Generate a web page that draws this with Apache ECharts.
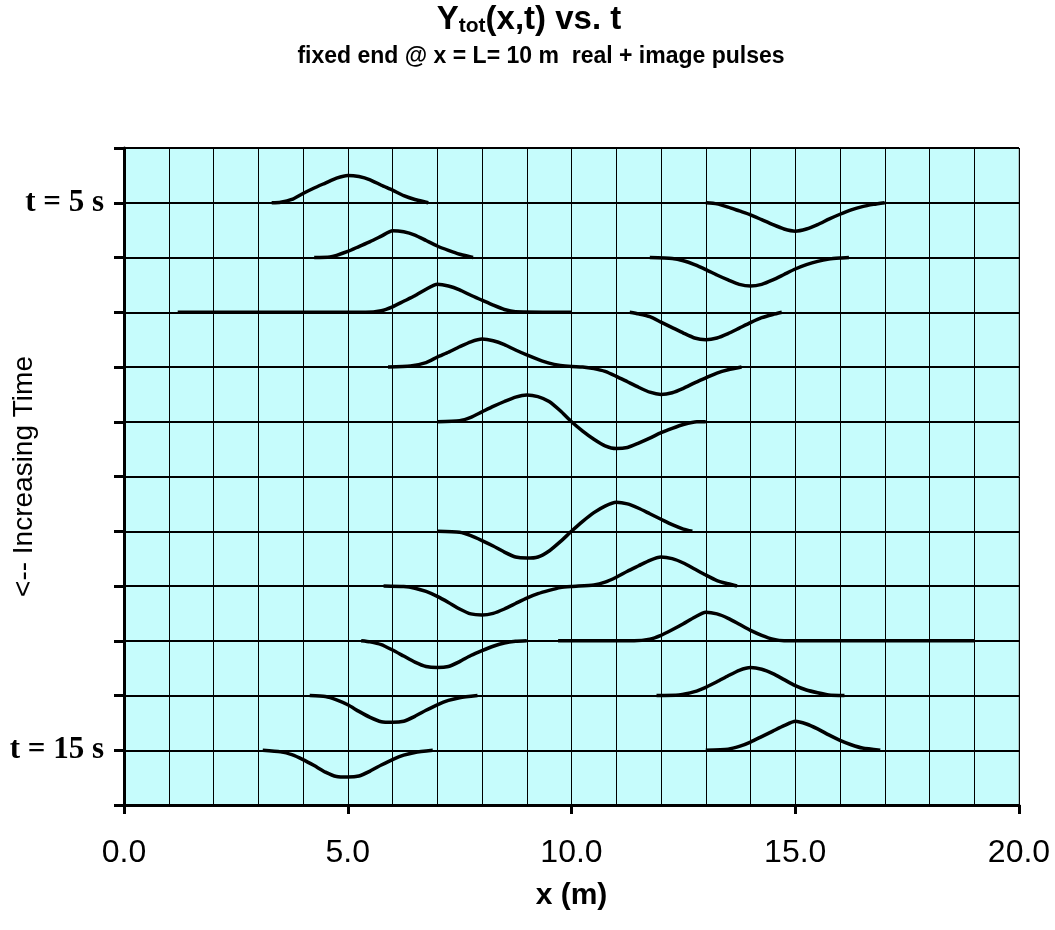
<!DOCTYPE html>
<html>
<head>
<meta charset="utf-8">
<script src="https://cdn.jsdelivr.net/npm/echarts@6/dist/echarts.min.js"></script>
<style>
  html, body { margin: 0; padding: 0; background: #fff; }
  #chart { width: 1055px; height: 930px; }
</style>
</head>
<body>
<div id="chart"></div>
<script>
// times of the rows, top (t = 5 s) to bottom (t = 15 s)
var times = [5, 6, 7, 8, 9, 10, 11, 12, 13, 14, 15];
var tickLabels = { 11: 't = 5 s', 1: 't = 15 s' };

// string displacement [x (m), y] per row, split in drawn segments
var t5 = [
  [[3.3,0],[3.5,0.01],[3.75,0.06],[4,0.17],[4.25,0.27],[4.5,0.36],[4.75,0.45],[5,0.5],[5.25,0.48],[5.5,0.42],[5.75,0.32],[6,0.23],[6.25,0.13],[6.5,0.06],[6.75,0.01],[6.8,0]],
  [[13,0],[13.25,-0.02],[13.5,-0.08],[13.75,-0.15],[14,-0.22],[14.25,-0.31],[14.5,-0.4],[14.75,-0.48],[15,-0.52],[15.25,-0.48],[15.5,-0.4],[15.75,-0.3],[16,-0.21],[16.25,-0.13],[16.5,-0.07],[16.75,-0.03],[17,0]]
];
var t6 = [
  [[4.25,0],[4.6,0.01],[4.75,0.04],[5,0.11],[5.25,0.2],[5.5,0.29],[5.75,0.39],[6,0.49],[6.25,0.47],[6.5,0.41],[6.75,0.31],[7,0.21],[7.25,0.13],[7.5,0.06],[7.75,0.01],[7.8,0]],
  [[11.75,0],[12.25,-0.02],[12.5,-0.06],[12.75,-0.13],[13,-0.22],[13.25,-0.32],[13.5,-0.41],[13.75,-0.49],[14,-0.52],[14.25,-0.49],[14.5,-0.41],[14.75,-0.31],[15,-0.21],[15.25,-0.13],[15.5,-0.07],[15.75,-0.03],[16,-0.01],[16.2,0]]
];
var t7 = [
  [[1.2,0],[5.4,0],[5.75,0.03],[6,0.1],[6.25,0.2],[6.5,0.3],[6.75,0.42],[7,0.51],[7.25,0.48],[7.5,0.41],[7.75,0.31],[8,0.22],[8.25,0.13],[8.5,0.05],[8.75,0.01],[10,0]],
  [[11.3,0],[11.5,-0.03],[11.75,-0.08],[12,-0.18],[12.25,-0.28],[12.5,-0.38],[12.75,-0.47],[13,-0.5],[13.25,-0.47],[13.5,-0.39],[13.75,-0.29],[14,-0.19],[14.25,-0.1],[14.5,-0.04],[14.7,0]]
];
var t8 = [
  [[5.9,0],[6.4,0.02],[6.75,0.08],[7,0.18],[7.25,0.27],[7.5,0.37],[7.75,0.46],[8,0.51],[8.25,0.48],[8.5,0.41],[8.75,0.31],[9,0.22],[9.25,0.14],[9.5,0.07],[9.75,0.03],[10,0.01],[10.25,0],[10.5,-0.03],[10.75,-0.08],[11,-0.17],[11.25,-0.27],[11.5,-0.37],[11.75,-0.46],[12,-0.5],[12.25,-0.47],[12.5,-0.39],[12.75,-0.29],[13,-0.2],[13.25,-0.11],[13.5,-0.05],[13.8,0]]
];
var t9 = [
  [[7,0],[7.5,0.02],[7.75,0.08],[8,0.18],[8.25,0.28],[8.5,0.37],[8.75,0.45],[9,0.49],[9.25,0.46],[9.5,0.37],[9.75,0.2],[10,0],[10.25,-0.17],[10.5,-0.32],[10.75,-0.44],[11,-0.49],[11.25,-0.47],[11.5,-0.39],[11.75,-0.3],[12,-0.2],[12.25,-0.12],[12.5,-0.05],[12.8,0],[13,0]]
];
var t10 = [];
var t11 = [
  [[7,0],[7.5,-0.02],[7.75,-0.08],[8,-0.17],[8.25,-0.27],[8.5,-0.38],[8.75,-0.47],[9,-0.49],[9.25,-0.47],[9.5,-0.36],[9.75,-0.19],[10,0],[10.25,0.18],[10.5,0.34],[10.75,0.46],[11,0.53],[11.25,0.5],[11.5,0.42],[11.75,0.32],[12,0.22],[12.25,0.12],[12.5,0.04],[12.7,0]]
];
var t12 = [
  [[5.8,0],[6.25,-0.01],[6.5,-0.04],[6.75,-0.1],[7,-0.19],[7.25,-0.3],[7.5,-0.42],[7.75,-0.51],[8,-0.53],[8.25,-0.5],[8.5,-0.42],[8.75,-0.32],[9,-0.22],[9.25,-0.14],[9.5,-0.08],[9.75,-0.03],[10,-0.01],[10.5,0.02],[10.75,0.07],[11,0.16],[11.25,0.27],[11.5,0.37],[11.75,0.47],[12,0.53],[12.25,0.5],[12.5,0.42],[12.75,0.31],[13,0.2],[13.25,0.1],[13.5,0.04],[13.7,0]]
];
var t13 = [
  [[5.3,0],[5.5,-0.02],[5.75,-0.07],[6,-0.17],[6.25,-0.28],[6.5,-0.39],[6.75,-0.47],[7,-0.49],[7.25,-0.47],[7.5,-0.38],[7.75,-0.27],[8,-0.18],[8.25,-0.1],[8.5,-0.04],[8.75,-0.01],[9,0]],
  [[9.7,0],[11.4,0],[11.75,0.03],[12,0.1],[12.25,0.2],[12.5,0.31],[12.75,0.43],[13,0.52],[13.25,0.49],[13.5,0.41],[13.75,0.3],[14,0.19],[14.25,0.1],[14.5,0.03],[14.75,0],[19,0]]
];
var t14 = [
  [[4.15,0],[4.5,-0.02],[4.75,-0.08],[5,-0.17],[5.25,-0.29],[5.5,-0.4],[5.75,-0.48],[6,-0.49],[6.25,-0.47],[6.5,-0.38],[6.75,-0.27],[7,-0.17],[7.25,-0.09],[7.5,-0.04],[7.9,0]],
  [[11.9,0],[12.4,0.01],[12.75,0.07],[13,0.15],[13.25,0.25],[13.5,0.36],[13.75,0.46],[14,0.51],[14.25,0.48],[14.5,0.4],[14.75,0.29],[15,0.18],[15.25,0.1],[15.5,0.05],[15.75,0.01],[16.1,0]]
];
var t15 = [
  [[3.1,0],[3.5,-0.03],[3.75,-0.08],[4,-0.17],[4.25,-0.28],[4.5,-0.4],[4.75,-0.48],[5,-0.49],[5.25,-0.47],[5.5,-0.38],[5.75,-0.27],[6,-0.17],[6.25,-0.09],[6.5,-0.04],[6.9,0]],
  [[13,0],[13.5,0.02],[13.75,0.07],[14,0.15],[14.25,0.25],[14.5,0.35],[14.75,0.45],[15,0.53],[15.25,0.48],[15.5,0.39],[15.75,0.28],[16,0.18],[16.25,0.1],[16.5,0.04],[16.9,0]]
];
var rows = [t5, t6, t7, t8, t9, t10, t11, t12, t13, t14, t15];

var SANS = '"Liberation Sans", Arial, sans-serif';
var SERIF = '"Liberation Serif", "Times New Roman", serif';

var chart = echarts.init(document.getElementById('chart'));

// each row sits on its own baseline: t = 5 s at 11 down to t = 15 s at 1
var series = rows.map(function (segs, i) {
  var base = times.length - i;
  var data = [];
  segs.forEach(function (seg, k) {
    if (k > 0) data.push(null);
    seg.forEach(function (p) { data.push([p[0], base + p[1]]); });
  });
  return {
    name: 't = ' + times[i] + ' s',
    type: 'line',
    data: data,
    showSymbol: false,
    connectNulls: false,
    smooth: 0.2,
    silent: true,
    lineStyle: { color: '#000', width: 3.5 },
    z: 5
  };
});

var option = {
  animation: false,
  backgroundColor: '#ffffff',
  grid: {
    left: 124, right: 36, top: 148, bottom: 125,
    outerBoundsMode: 'none',
    containLabel: false,
    show: true,
    backgroundColor: '#c6fcfc',
    borderColor: '#888',
    borderWidth: 1
  },
  graphic: [
    {
      type: 'text', x: 529, y: 20,
      style: {
        text: '{m|Y}{s|tot}{m|(x,t) vs. t}',
        align: 'center', verticalAlign: 'middle',
        rich: {
          m: { fontSize: 33, fontWeight: 'bold', fontFamily: SANS, lineHeight: 33, fill: '#000' },
          s: { fontSize: 21, fontWeight: 'bold', fontFamily: SANS, lineHeight: 8, verticalAlign: 'bottom', fill: '#000' }
        }
      }
    },
    {
      type: 'text', x: 541, y: 57,
      style: {
        text: 'fixed end @ x = L= 10 m  real + image pulses',
        align: 'center', verticalAlign: 'middle',
        fontSize: 23, fontWeight: 'bold', fontFamily: SANS, fill: '#000'
      }
    }
  ],
  xAxis: {
    type: 'value',
    min: 0, max: 20, interval: 5,
    name: 'x (m)',
    nameLocation: 'middle',
    nameGap: 76,
    nameMoveOverlap: false,
    nameTextStyle: { fontSize: 30, fontWeight: 'bold', fontFamily: SANS, color: '#000' },
    axisLine: { show: true, onZero: false, lineStyle: { color: '#000', width: 3 } },
    axisTick: { show: true, length: 9, lineStyle: { color: '#000', width: 3 } },
    axisLabel: {
      fontSize: 32, fontFamily: SANS, color: '#000', margin: 32,
      formatter: function (v) { return v.toFixed(1); }
    },
    splitLine: { show: true, lineStyle: { color: '#000', width: 1 } },
    minorTick: { show: false, splitNumber: 5 },
    minorSplitLine: { show: true, lineStyle: { color: '#000', width: 1 } }
  },
  yAxis: {
    type: 'value',
    min: 0, max: 12, interval: 1,
    name: '<-- Increasing Time',
    nameLocation: 'middle',
    nameGap: 86,
    nameMoveOverlap: false,
    nameTextStyle: { fontSize: 28, fontFamily: SANS, color: '#000' },
    axisLine: { show: true, lineStyle: { color: '#000', width: 3 } },
    axisTick: { show: true, length: 10, lineStyle: { color: '#000', width: 3 } },
    axisLabel: {
      fontSize: 31, fontWeight: 'bold', fontFamily: SERIF, color: '#000', margin: 20,
      formatter: function (v) { return tickLabels[v] || ''; }
    },
    splitLine: { show: true, lineStyle: { color: '#000', width: 2 } }
  },
  series: series
};

chart.setOption(option);
</script>
</body>
</html>
